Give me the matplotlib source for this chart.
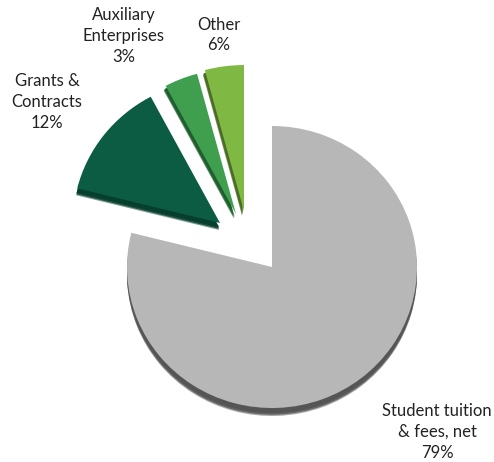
import matplotlib
matplotlib.use("Agg")
import matplotlib.pyplot as plt
from matplotlib.patches import Wedge

categories = ["Student tuition\n& fees, net", "Grants &\nContracts", "Auxiliary\nEnterprises", "Other"]
stated_pct = [79, 12, 3, 6]
# slice shares as actually drawn in the picture (percent of the circle)
drawn_share = [78.9, 13.3, 3.6, 4.2]

colors = ["#b7b7b7", "#0b5c42", "#3f9f4f", "#7fb843"]
shadow_colors = ["#555555", "#063f2d", "#1f5f2d", "#4a6b25"]
W, H = 494, 462
CX, CY, RX, RY = 272, 267, 145, 141
offsets_px = [(0, 0), (-52, 44), (-36, 53), (-28, 56)]
radius_scale = [1.0, 1.015, 1.03, 1.035]
shadow_px = [(0, -8), (-1, -7), (-2, -5), (-2, -5)]
label_px = [(437, 432), (47, 102), (124, 36), (219, 35)]

plt.rcParams["font.family"] = ["Lato", "DejaVu Sans"]
fig = plt.figure(figsize=(W / 100, H / 100), dpi=100)
ax = fig.add_axes([0, 0, 1, 1])
wedges, _ = ax.pie(drawn_share, colors=colors, startangle=90, counterclock=False,
                   radius=1, center=(0, 0), frame=False)
ax.set_aspect("auto")
ax.set_xlim(-CX / RX, (W - CX) / RX)
ax.set_ylim(-(H - CY) / RY, CY / RY)
ax.axis("off")

for w, off, rs, sh, sc in zip(wedges, offsets_px, radius_scale, shadow_px, shadow_colors):
    c = (off[0] / RX, off[1] / RY)
    w.set_center(c)
    w.set_radius(rs)
    w.set_linewidth(0)
    w.set_zorder(5)
    for frac, a in ((1.0, 0.5), (0.85, 0.8), (0.65, 1.0)):
        ax.add_patch(Wedge((c[0] + frac * sh[0] / RX, c[1] + frac * sh[1] / RY), rs,
                           w.theta1, w.theta2, facecolor=sc, alpha=a, linewidth=0, zorder=3))

for name, pct, (x, y) in zip(categories, stated_pct, label_px):
    fig.text(x / W, 1 - y / H, f"{name}\n{pct}%", ha="center", va="center",
             fontsize=12, color="#222222", linespacing=1.35, zorder=10)

fig.savefig("out.png", dpi=100)
